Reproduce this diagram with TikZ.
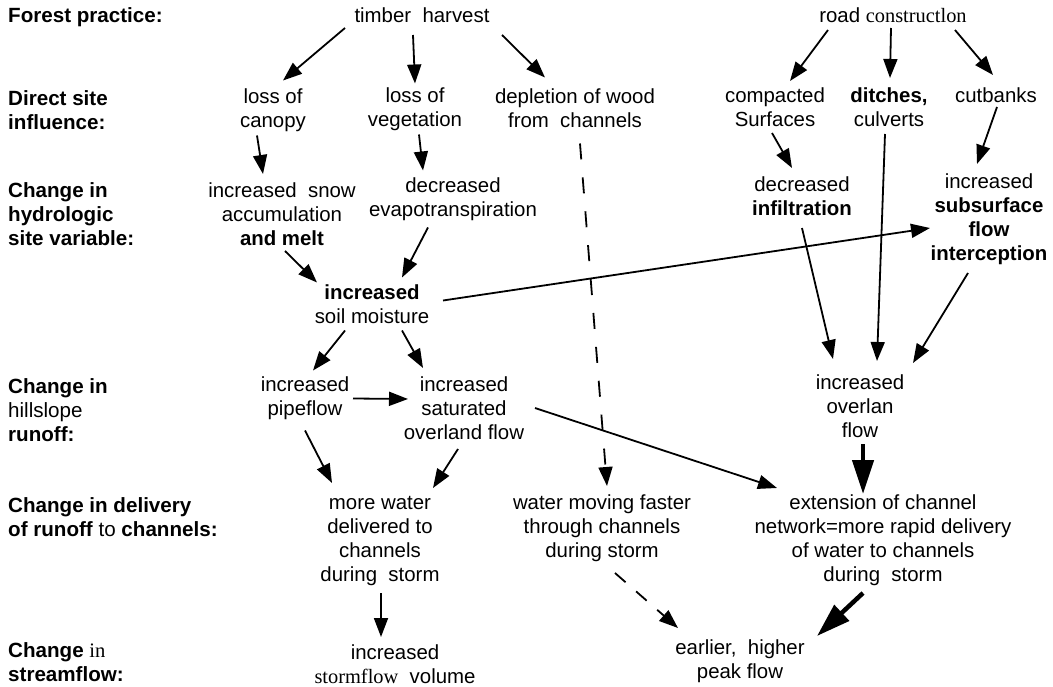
\documentclass[tikz,border=0pt]{standalone}
\usepackage{fontspec}
\setmainfont{Liberation Sans}
\newfontfamily\seriffont{Liberation Serif}
\usetikzlibrary{arrows.meta,calc}
\begin{document}
\begin{tikzpicture}[x=1pt,y=-1pt,
  lab/.style={anchor=west,align=left,inner sep=0pt,font=\fontsize{20.6}{24}\selectfont\bfseries},
  txt/.style={align=center,inner sep=0pt,font=\fontsize{20.4}{24}\selectfont},
  arr/.style={line width=1.8pt,-{Triangle[length=19pt,width=14pt]}},
  bigarr/.style={line width=4.5pt,-{Triangle[length=34pt,width=21pt]}},
  dasharr/.style={arr,dash pattern=on 16pt off 18pt}]
\useasboundingbox (0,0) rectangle (1053,687);
% row labels
\node[lab] (l1) at (8,17) {Forest practice:};
\node[lab] (l2) at (8,110) {Direct site\\influence:};
\node[lab] (l3) at (8,214) {Change in\\hydrologic\\site variable:};
\node[lab] (l4) at (8,410) {Change in\\{\mdseries hillslope}\\runoff:};
\node[lab] (l5) at (8,517) {Change in delivery\\of runoff {\mdseries to} channels:};
\node[lab] (l6) at (8,662) {Change {\seriffont\mdseries in}\\streamflow:};
% nodes
\node[txt] (timber) at (422,15) {timber\ \ harvest};
\node[txt] (road) at (893,15) {road {\seriffont constructlon}};
\node[txt] (canopy) at (273,110) {loss of\\canopy};
\node[txt] (veg) at (415,109) {loss of\\vegetation};
\node[txt] (depl) at (575,108) {depletion of wood\\from\ \ channels};
\node[txt] (compact) at (775,107) {compacted\\Surfaces};
\node[txt] (ditches) at (889,107) {\textbf{ditches,}\\culverts};
\node[txt] (cutbanks) at (996,95) {cutbanks};
\node[txt] (snow) at (282,214) {increased\ \ snow\\accumulation\\\textbf{and melt}};
\node[txt] (decr) at (453,199) {decreased\\evapotranspiration};
\node[txt] (infil) at (802,196) {decreased\\\textbf{infiltration}};
\node[txt] (subsurf) at (989,219) {increased\\\textbf{subsurface}\\\textbf{flow}\\\textbf{interception}};
\node[txt] (soil) at (372,304) {\textbf{increased}\\soil moisture};
\node[txt] (pipe) at (305,398) {increased\\pipeflow};
\node[txt] (sat) at (464,408) {increased\\saturated\\overland flow};
\node[txt] (overlan) at (860,406) {increased\\overlan\\flow};
\node[txt] (more) at (380,541) {more water\\delivered to\\channels\\during\ \ storm};
\node[txt] (moving) at (602,528) {water moving faster\\through channels\\during storm};
\node[txt] (ext) at (883,540) {extension of channel\\network=more rapid delivery\\of water to channels\\during\ \ storm};
\node[txt] (storm) at (395,664) {increased\\{\seriffont stormflow}\ \ volume};
\node[txt] (peak) at (740,661) {earlier,\ \ higher\\peak flow};
% connectors
\draw[arr] ($(timber)+(-77,13)$) -- ($(canopy)+(10,-29.5)$);
\draw[arr] ($(timber)+(-9,20)$) -- ($(veg)+(0,-25.5)$);
\draw[arr] ($(timber)+(80,20)$) -- ($(depl)+(-30,-30.5)$);
\draw[arr] ($(road)+(-65,15)$) -- ($(compact)+(15,-26)$);
\draw[arr] ($(road)+(-2,13)$) -- ($(ditches)+(1,-29)$);
\draw[arr] ($(road)+(62,15)$) -- ($(cutbanks)+(-3,-20)$);
\draw[arr] ($(canopy)+(-16,25.5)$) -- ($(snow)+(-19,-40)$);
\draw[arr] ($(veg)+(4,25.5)$) -- ($(decr)+(-30,-28.5)$);
\draw[arr] ($(compact)+(-3,26)$) -- ($(infil)+(-10,-28)$);
\draw[arr] ($(cutbanks)+(1,12)$) -- ($(subsurf)+(-12,-55)$);
\draw[dasharr] ($(depl)+(5,35.5)$) -- ($(moving)+(5,-42)$);
\draw[arr] ($(snow)+(3,37)$) -- ($(soil)+(-55,-21.5)$);
\draw[arr] ($(decr)+(-25,28.5)$) -- ($(soil)+(30,-26.5)$);
\draw[arr] ($(soil)+(71,-3.5)$) -- ($(subsurf)+(-59,9)$);
\draw[arr] ($(infil)+(0,32)$) -- ($(overlan)+(-27,-47)$);
\draw[arr] ($(ditches)+(-4,27)$) -- ($(overlan)+(17,-45)$);
\draw[arr] ($(subsurf)+(-21,54)$) -- ($(overlan)+(53,-43)$);
\draw[arr] ($(soil)+(-27,26.5)$) -- ($(pipe)+(8,-27.5)$);
\draw[arr] ($(soil)+(30,26.5)$) -- ($(sat)+(-41,-40)$);
\draw[arr] ($(pipe)+(48,0.5)$) -- ($(sat)+(-56,-9)$);
\draw[arr] ($(sat)+(71,0)$) -- ($(ext)+(-106,-52)$);
\draw[arr] ($(pipe)+(0,32.5)$) -- ($(more)+(-48,-58)$);
\draw[arr] ($(sat)+(-6,41)$) -- ($(more)+(53,-53)$);
\draw[bigarr] ($(overlan)+(3,38)$) -- ($(ext)+(-20,-46)$);
\draw[arr] ($(more)+(1,52)$) -- ($(storm)+(-14,-27)$);
\draw[arr,dash pattern=on 14pt off 14pt] ($(moving)+(13,45)$) -- ($(peak)+(-62,-33)$);
\draw[bigarr] ($(ext)+(-20,53)$) -- ($(peak)+(77,-25)$);
\end{tikzpicture}
\end{document}
